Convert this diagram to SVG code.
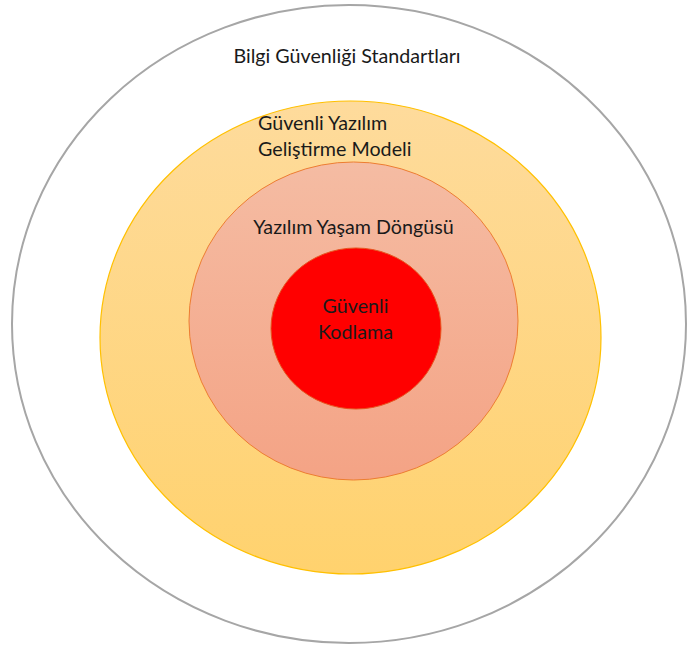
<svg xmlns="http://www.w3.org/2000/svg" width="687" height="648" viewBox="0 0 687 648">
  <style>
    .lbl { font-family: Lato, "Open Sans", sans-serif; font-size: 19.7px; fill: #1a1a1a; }
  </style>
  <defs>
    <linearGradient id="gYellow" x1="0" y1="0" x2="0" y2="1">
      <stop offset="0" stop-color="#FEDB9C"/>
      <stop offset="1" stop-color="#FFD26E"/>
    </linearGradient>
    <linearGradient id="gSalmon" x1="0" y1="0" x2="0" y2="1">
      <stop offset="0" stop-color="#F5BCA3"/>
      <stop offset="1" stop-color="#F4A385"/>
    </linearGradient>
  </defs>
  <rect width="687" height="648" fill="#ffffff"/>

  <g id="standards">
    <ellipse cx="349" cy="324" rx="337" ry="319" fill="#ffffff" stroke="#a6a6a6" stroke-width="2"/>
    <text class="lbl" x="347" y="63" text-anchor="middle">Bilgi Güvenliği Standartları</text>
  </g>

  <g id="secure-dev-model">
    <ellipse cx="350.5" cy="337.5" rx="250.5" ry="236.5" fill="url(#gYellow)" stroke="#FFC000" stroke-width="1.2"/>
    <text class="lbl" x="258" y="130">Güvenli Yazılım</text>
    <text class="lbl" x="258" y="156">Geliştirme Modeli</text>
  </g>

  <g id="sdlc">
    <ellipse cx="353.5" cy="321" rx="164.5" ry="159" fill="url(#gSalmon)" stroke="#ED7D31" stroke-width="1"/>
    <text class="lbl" x="353.5" y="234" text-anchor="middle">Yazılım Yaşam Döngüsü</text>
  </g>

  <g id="secure-coding">
    <ellipse cx="356" cy="328.5" rx="85" ry="80.5" fill="#FF0000" stroke="#E8541E" stroke-width="1"/>
    <text class="lbl" x="355.5" y="313" text-anchor="middle">Güvenli</text>
    <text class="lbl" x="355.5" y="339" text-anchor="middle">Kodlama</text>
  </g>

  <g id="connectors"/>
</svg>
